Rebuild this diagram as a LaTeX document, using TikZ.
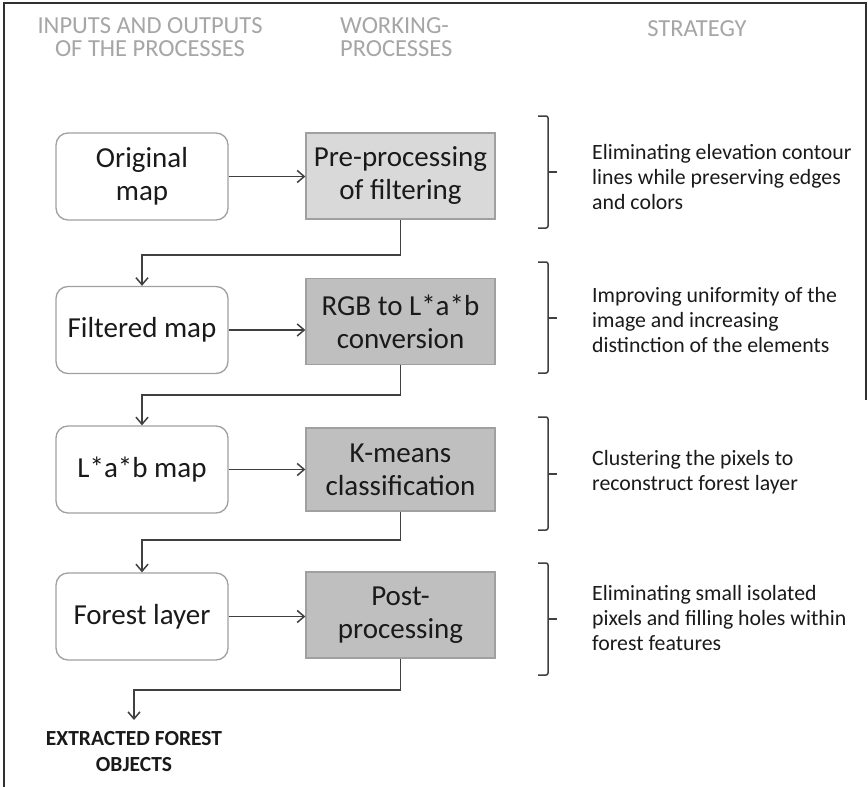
\documentclass[tikz,border=0pt]{standalone}
\usepackage{fontspec}
\setmainfont{Carlito}
\usetikzlibrary{arrows.meta}
\definecolor{hdr}{HTML}{A6A6A6}
\definecolor{boxline}{HTML}{A0A0A0}
\definecolor{lightfill}{HTML}{D9D9D9}
\definecolor{darkfill}{HTML}{BFBFBF}
\definecolor{conn}{HTML}{404040}
\definecolor{txt}{HTML}{1A1A1A}
\definecolor{frm}{HTML}{303030}
\begin{document}
\begin{tikzpicture}[x=1pt,y=-1pt,
  iobox/.style={draw=boxline, line width=1.3pt, rounded corners=12pt, fill=white,
    minimum width=172pt, minimum height=87pt, align=center,
    font=\fontsize{29}{33}\selectfont, text=txt, inner sep=0pt},
  wpbox/.style={draw=boxline, line width=1.3pt, minimum width=189pt, minimum height=86pt,
    align=center, font=\fontsize{29}{33}\selectfont, text=txt, inner sep=0pt},
  arr/.style={draw=conn, line width=1.5pt, -{Straight Barb[length=7pt,width=12pt]}},
  bracket/.style={draw=conn, line width=1.5pt, rounded corners=2pt},
  strat/.style={anchor=west, align=left, font=\fontsize{21.8}{25}\selectfont, text=txt, inner sep=0pt},
  head/.style={text=hdr, font=\fontsize{24.5}{23}\selectfont, inner sep=0pt}]
\useasboundingbox (0,0) rectangle (868,787);
\fill[white] (0,0) rectangle (868,787);
\draw[frm, line width=1.5pt] (4,787) -- (4,3) -- (866,3) -- (866,400);

% headers
\node[head, align=center] (hin) at (150,37) {INPUTS AND OUTPUTS\\OF THE PROCESSES};
\node[head, align=left, anchor=west] (hwp) at (340,37) {WORKING-\\PROCESSES};
\node[head] (hst) at (697,29) {STRATEGY};

% left column
\node[iobox] (l1) at (142,176.5) {Original\\map};
\node[iobox] (l2) at (142,330) {Filtered map};
\node[iobox] (l3) at (142,469.5) {L*a*b map};
\node[iobox] (l4) at (142,616.5) {Forest layer};

% working processes
\node[wpbox, fill=lightfill] (g1) at (400.5,176) {Pre-processing\\of filtering};
\node[wpbox, fill=darkfill] (g2) at (400.5,321.5) {RGB to L*a*b\\conversion};
\node[wpbox, fill=darkfill, minimum height=83pt] (g3) at (400.5,469.5) {K-means\\classification};
\node[wpbox, fill=darkfill] (g4) at (400.5,615) {Post-\\processing};

% output
\node[font=\bfseries\fontsize{21.5}{26}\selectfont, align=center, text=txt, inner sep=0pt, anchor=north] (out) at (134,731) {EXTRACTED FOREST\\OBJECTS};

% horizontal arrows
\draw[arr] (l1.east) -- (l1.east -| g1.west);
\draw[arr] (l2.east) -- (l2.east -| g2.west);
\draw[arr] (l3.east) -- (l3.east -| g3.west);
\draw[arr] (l4.east) -- (l4.east -| g4.west);

% down connectors
\coordinate (h1) at (142,255);
\coordinate (h2) at (142,395);
\coordinate (h3) at (142,540);
\coordinate (h4) at (134,690);
\draw[arr] (g1.south) |- (h1) -- (l2.north);
\draw[arr] (g2.south) |- (h2) -- (l3.north);
\draw[arr] (g3.south) |- (h3) -- (l4.north);
\draw[arr, shorten >=11pt] (g4.south) |- (h4) -- (out.north);

% brackets
\draw[bracket] (538,116) -- (548,116) -- (548,228) -- (538,228);
\draw[bracket] (548,172) -- (557,172);
\draw[bracket] (538,262) -- (548,262) -- (548,373) -- (538,373);
\draw[bracket] (548,318) -- (557,318);
\draw[bracket] (538,417) -- (548,417) -- (548,530) -- (538,530);
\draw[bracket] (548,474) -- (557,474);
\draw[bracket] (538,563) -- (548,563) -- (548,675) -- (538,675);
\draw[bracket] (548,619) -- (557,619);

% strategy texts
\node[strat] (s1) at (592,177) {Eliminating elevation contour\\lines while preserving edges\\and colors};
\node[strat] (s2) at (592,320) {Improving uniformity of the\\image and increasing\\distinction of the elements};
\node[strat] (s3) at (592,472) {Clustering the pixels to\\reconstruct forest layer};
\node[strat] (s4) at (592,618) {Eliminating small isolated\\pixels and filling holes within\\forest features};
\end{tikzpicture}
\end{document}
